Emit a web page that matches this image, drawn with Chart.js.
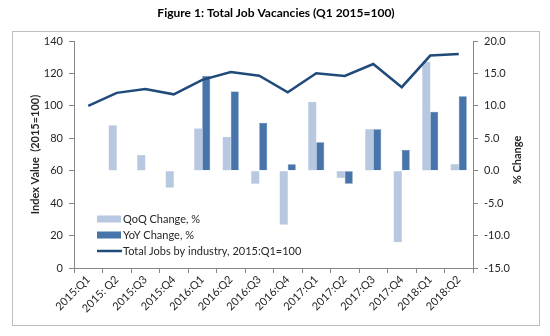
<!DOCTYPE html>
<html>
<head>
<meta charset="utf-8">
<script src="https://cdn.jsdelivr.net/npm/chart.js@4.4.1/dist/chart.umd.min.js"></script>
<style>
  html, body { margin: 0; padding: 0; background: #fff; }
  #wrap { width: 550px; height: 336px; position: relative; }
</style>
</head>
<body>
<div id="wrap"><canvas id="mainChart" width="550" height="336"></canvas></div>
<script>
// quarters, index and % change series
const quarters = ["2015:Q1", "2015: Q2", "2015:Q3", "2015:Q4", "2016:Q1", "2016:Q2", "2016:Q3",
    "2016:Q4", "2017:Q1", "2017:Q2", "2017:Q3", "2017:Q4", "2018:Q1", "2018:Q2"];
const qoqChange = [null, 7.0, 2.4, -2.6, 6.5, 5.2, -2.0, -8.3, 10.6, -1.1, 6.4, -11.0, 16.8, 1.0];
const yoyChange = [null, null, null, null, 14.6, 12.2, 7.4, 1.0, 4.4, -2.0, 6.4, 3.2, 9.1, 11.5];
const totalJobs = [100, 108, 110.4, 107.1, 116, 120.9, 118.6, 108.4, 120.1, 118.4, 125.8, 111.5, 131, 132];
const indexTicks = [0, 20, 40, 60, 80, 100, 120, 140];
const pctTicks = [-15, -10, -5, 0, 5, 10, 15, 20];

const chartTitle = "Figure 1: Total Job Vacancies (Q1 2015=100)";
const leftTitle = "Index Value  (2015=100)";
const rightTitle = "% Change";

const fontName = "Lato, 'Open Sans', sans-serif";
const txtColor = "#262626";

// title, frame, axis titles and the legend in the lower left of the plot
const decorPlugin = {
    id: "decor",
    beforeDraw(chart) {
        const ctx = chart.ctx;
        ctx.save();
        ctx.strokeStyle = "#bfbfbf";
        ctx.lineWidth = 1;
        ctx.strokeRect(12.5, 31.5, 527, 294);
        ctx.restore();
    },
    afterDraw(chart) {
        const ctx = chart.ctx;
        const area = chart.chartArea;
        ctx.save();
        ctx.fillStyle = "#000";
        ctx.font = "bold 12px " + fontName;
        ctx.textAlign = "center";
        ctx.textBaseline = "middle";
        ctx.fillText(chartTitle, 276, 13);

        ctx.font = "bold 11px " + fontName;
        ctx.fillStyle = txtColor;
        ctx.translate(35, (area.top + area.bottom) / 2);
        ctx.rotate(-Math.PI / 2);
        ctx.fillText(leftTitle, 0, 0);
        ctx.restore();

        ctx.save();
        ctx.font = "bold 11px " + fontName;
        ctx.fillStyle = txtColor;
        ctx.textAlign = "center";
        ctx.textBaseline = "middle";
        ctx.translate(517, 160);
        ctx.rotate(-Math.PI / 2);
        ctx.fillText(rightTitle, 0, 0);
        ctx.restore();

        // legend
        const ds = chart.data.datasets;
        const rows = [ds[1], ds[2], ds[0]];
        ctx.save();
        ctx.font = "11px " + fontName;
        ctx.textBaseline = "middle";
        ctx.textAlign = "left";
        for (let i = 0; i < rows.length; i++) {
            const y = 219 + i * 16;
            if (rows[i].type === "line") {
                ctx.strokeStyle = rows[i].borderColor;
                ctx.lineWidth = 2.5;
                ctx.beginPath();
                ctx.moveTo(97, y);
                ctx.lineTo(122, y);
                ctx.stroke();
            } else {
                ctx.fillStyle = rows[i].backgroundColor;
                ctx.fillRect(97, y - 3.5, 24, 7);
            }
            ctx.fillStyle = txtColor;
            ctx.fillText(rows[i].label, 123, y);
        }
        ctx.restore();
    }
};

const canvas_1 = document.getElementById("mainChart");
new Chart(canvas_1, {
    data: {
        labels: quarters,
        datasets: [
            {
                type: "line",
                label: "Total Jobs by industry, 2015:Q1=100",
                data: totalJobs,
                yAxisID: "y",
                borderColor: "#1f4a7a",
                borderWidth: 2.5,
                pointRadius: 0,
                tension: 0,
                order: 0
            },
            {
                type: "bar",
                label: "QoQ Change, %",
                data: qoqChange,
                yAxisID: "y1",
                backgroundColor: "#b9c8e1",
                categoryPercentage: 0.56,
                barPercentage: 1.0,
                order: 1
            },
            {
                type: "bar",
                label: "YoY Change, %",
                data: yoyChange,
                yAxisID: "y1",
                backgroundColor: "#4674ab",
                borderColor: "#3a6399",
                borderWidth: 0.5,
                categoryPercentage: 0.56,
                barPercentage: 1.0,
                order: 1
            }
        ]
    },
    options: {
        responsive: false,
        animation: false,
        layout: { padding: { top: 41, left: 0, right: 0, bottom: 0 } },
        plugins: {
            legend: { display: false },
            title: { display: false },
            tooltip: { enabled: false }
        },
        scales: {
            x: {
                grid: { drawOnChartArea: false, tickLength: 5, color: "#868686", offset: true },
                border: { color: "#868686" },
                ticks: {
                    color: txtColor,
                    font: { family: fontName, size: 11 },
                    maxRotation: 45,
                    minRotation: 45,
                    autoSkip: false,
                    padding: 0
                },
                afterFit(scale) { scale.height = 68; }
            },
            y: {
                position: "left",
                min: 0,
                max: 140,
                afterBuildTicks(scale) { scale.ticks = indexTicks.map(v => ({ value: v })); },
                grid: { drawOnChartArea: false, tickLength: 5, color: "#868686" },
                border: { color: "#868686" },
                ticks: { color: txtColor, font: { family: fontName, size: 11 }, padding: 6 },
                afterFit(scale) { scale.width = 74; }
            },
            y1: {
                position: "right",
                min: -15,
                max: 20,
                afterBuildTicks(scale) { scale.ticks = pctTicks.map(v => ({ value: v })); },
                grid: { drawOnChartArea: false, tickLength: 5, color: "#868686" },
                border: { color: "#868686" },
                ticks: {
                    color: txtColor,
                    font: { family: fontName, size: 11 },
                    padding: 6,
                    callback: v => Number(v).toFixed(1)
                },
                afterFit(scale) { scale.width = 77; }
            }
        }
    },
    plugins: [decorPlugin]
});
</script>
</body>
</html>
